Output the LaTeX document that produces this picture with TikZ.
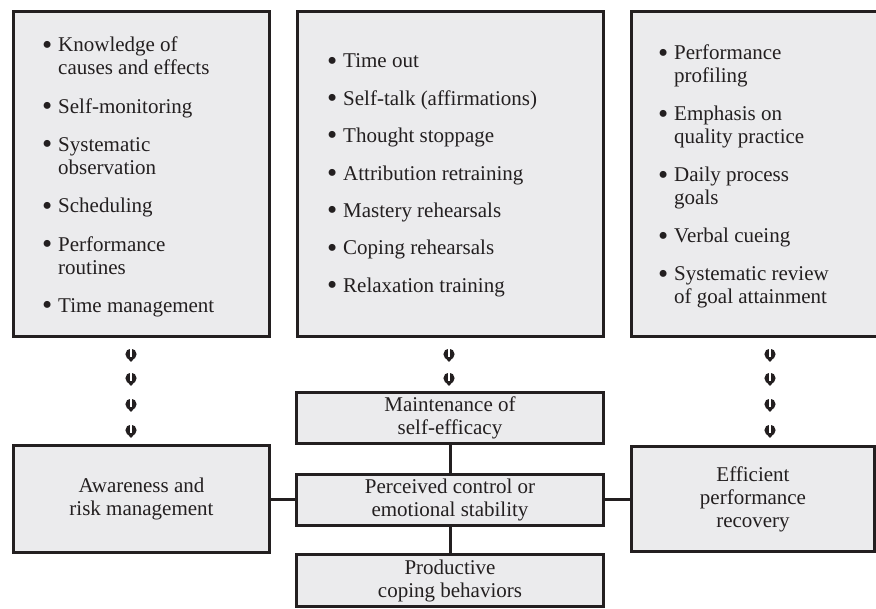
\documentclass[tikz,border=0pt]{standalone}
\usepackage{fontspec}
\setmainfont{Liberation Serif}
\definecolor{boxfill}{RGB}{235,235,237}
\definecolor{ink}{RGB}{35,31,32}
\newcommand\mybul{\makebox[7pt][c]{\raisebox{-2.2pt}{\fontsize{29}{23}\selectfont\textbullet}}}
\begin{document}
\begin{tikzpicture}[x=1pt,y=-1pt,
  box/.style={draw=ink, fill=boxfill, line width=3pt, inner sep=0pt, align=center,
    font=\fontsize{21}{23}\selectfont, text=ink},
  list/.style={inner sep=0pt, anchor=base west, font=\fontsize{21}{23}\selectfont, text=ink},
  link/.style={draw=ink, line width=3pt},
  darrow/.pic={
    \fill[ink] (0,-0.8) circle (5.6pt);
    \fill[ink] (-4.6,1.8) -- (4.6,1.8) -- (0,7) -- cycle;
    \draw[white, line width=1.2pt] (0,-7.5) -- (0,2);
  }
]
\useasboundingbox (0,0) rectangle (876,609);
\clip (0,0) rectangle (876,609);

% top boxes
\node[box, minimum width=256pt, minimum height=325pt] (L) at (141.5,174) {};
\node[box, minimum width=306pt, minimum height=325pt] (M) at (450.5,174) {};
\node[box, minimum width=260pt, minimum height=325pt] (R) at (761.5,174) {};

% lower boxes
\node[box, minimum width=256pt, minimum height=107pt] (A) at (141.5,499) {Awareness and\\risk management};
\node[box, minimum width=307pt, minimum height=51pt] (S) at (450,418) {Maintenance of\\self-efficacy};
\node[box, minimum width=307pt, minimum height=51pt] (P) at (450,500) {Perceived control or\\emotional stability};
\node[box, minimum width=307pt, minimum height=52pt] (C) at (450,580.5) {Productive\\coping behaviors};
\node[box, minimum width=243pt, minimum height=105pt] (E) at (753,499) {Efficient\\performance\\recovery};

% connectors
\draw[link] (S.south) -- (P.north);
\draw[link] (P.south) -- (C.north);
\draw[link] (P.west) -- (P.west -| A.east);
\draw[link] (P.east) -- (P.east -| E.west);

% lists
\node[list] (Lt) at (43.5,52) {\begin{tabular}[t]{@{}l@{\hspace{7.5pt}}l@{}}
\mybul & Knowledge of\\ & causes and effects\\[15.3pt]
\mybul & Self-monitoring\\[15.3pt]
\mybul & Systematic\\ & observation\\[15.3pt]
\mybul & Scheduling\\[15.3pt]
\mybul & Performance\\ & routines\\[15.3pt]
\mybul & Time management
\end{tabular}};

\node[list] (Mt) at (328.5,68) {\begin{tabular}[t]{@{}l@{\hspace{7.5pt}}l@{}}
\mybul & Time out\\[14.4pt]
\mybul & Self-talk (affirmations)\\[14.4pt]
\mybul & Thought stoppage\\[14.4pt]
\mybul & Attribution retraining\\[14.4pt]
\mybul & Mastery rehearsals\\[14.4pt]
\mybul & Coping rehearsals\\[14.4pt]
\mybul & Relaxation training
\end{tabular}};

\node[list] (Rt) at (659.5,60) {\begin{tabular}[t]{@{}l@{\hspace{7.5pt}}l@{}}
\mybul & Performance\\ & profiling\\[15pt]
\mybul & Emphasis on\\ & quality practice\\[15pt]
\mybul & Daily process\\ & goals\\[15pt]
\mybul & Verbal cueing\\[15pt]
\mybul & Systematic review\\ & of goal attainment
\end{tabular}};

% arrow glyphs
\foreach \yy in {355,379,405,431} {
  \pic at (131,\yy) {darrow};
  \pic at (770,\yy) {darrow};
}
\foreach \yy in {355,379} {
  \pic at (449,\yy) {darrow};
}
\end{tikzpicture}
\end{document}
